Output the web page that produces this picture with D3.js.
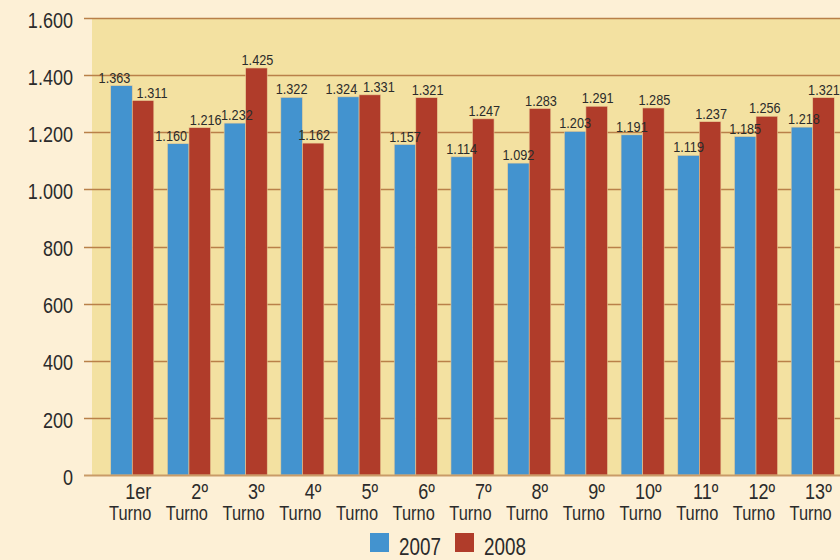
<!DOCTYPE html>
<html><head><meta charset="utf-8">
<script src="https://cdn.jsdelivr.net/npm/d3@7"></script>
<style>
body{margin:0;background:#fdf0d6;}
svg{display:block;}
text{font-family:"Liberation Sans",Arial,sans-serif;fill:#2b2b2b;}
</style></head>
<body><svg id="c" width="840" height="560"></svg>
<script>
const categories = ["1er","2º","3º","4º","5º","6º","7º","8º","9º","10º","11º","12º","13º"];
const subLabel = "Turno";
const values2007 = [1363,1160,1232,1322,1324,1157,1114,1092,1203,1191,1119,1185,1218];
const values2008 = [1311,1216,1425,1162,1331,1321,1247,1283,1291,1285,1237,1256,1321];
const seriesNames = ["2007","2008"];
const seriesColors = ["#4393cf","#b03c2a"];
const yTicks = [0,200,400,600,800,1000,1200,1400,1600];

const NARROW = 0.82; // horizontal condensing to mimic a narrow face
const svg = d3.select("#c");
const W = 840;
const y = d3.scaleLinear().domain([0,1600]).range([475,18]);
const x = d3.scaleBand().domain(categories).range([92,853]).paddingInner(0.24).paddingOuter(0.33);
const xs = d3.scaleBand().domain(seriesNames).range([0,x.bandwidth()]);
const fmt = v => d3.format(",")(v).replace(/,/g,".");

function ntext(sel, tx, ty){
  return sel.attr("x",0).attr("y",0).attr("transform",`translate(${tx},${ty}) scale(${NARROW},1)`);
}

// plot background
svg.append("rect").attr("x",92).attr("y",y(1600)).attr("width",W-92).attr("height",y(0)-y(1600)).attr("fill","#f3e1a1");

// gridlines
svg.append("g").selectAll("line").data(yTicks.filter(d=>d>0)).join("line")
  .attr("x1",84).attr("x2",W).attr("y1",d=>Math.round(y(d))+0.5).attr("y2",d=>Math.round(y(d))+0.5)
  .attr("stroke","#b98049").attr("stroke-width",1.3);

// y axis labels via axis
const yAxis = d3.axisLeft(y).tickValues(yTicks).tickSize(0).tickPadding(0).tickFormat(fmt);
const ya = svg.append("g").attr("transform","translate(73,0)").call(yAxis);
ya.select(".domain").remove();
ya.selectAll("text").attr("x",0).attr("font-size",22).attr("dy","0.42em")
  .attr("transform",`scale(${NARROW},1)`)
  .style("font-family",'"Liberation Sans",Arial,sans-serif').attr("fill","#2b2b2b");

// bars
const data = categories.map((c,i)=>({c, vals:[values2007[i],values2008[i]]}));
const groups = svg.append("g").selectAll("g").data(data).join("g").attr("transform",d=>`translate(${x(d.c)},0)`);
groups.selectAll("rect").data(d=>d.vals.map((v,k)=>({v,k}))).join("rect")
  .attr("x",d=>xs(seriesNames[d.k])).attr("width",xs.bandwidth())
  .attr("y",d=>y(d.v)).attr("height",d=>y(0)-y(d.v))
  .attr("fill",d=>seriesColors[d.k]).attr("stroke","#e9cc96").attr("stroke-width",0.6);

// zero line on top
svg.append("line").attr("x1",84).attr("x2",W).attr("y1",y(0)+0.5).attr("y2",y(0)+0.5)
  .attr("stroke","#c99b68").attr("stroke-width",2);

// value labels: compute centres, nudge apart when labels would collide
const labels = [];
data.forEach((d,i)=>{
  const yb = y(d.vals[0]), yr = y(d.vals[1]);
  const close = Math.abs(yb-yr) < 16;
  const off = close ? [-7, 9] : [0, 1];
  d.vals.forEach((v,k)=>{
    labels.push({v, k, i, cx: x(d.c) + xs(seriesNames[k]) + xs.bandwidth()/2 + off[k], cy: y(v)-3});
  });
});
for (let i=0;i<data.length-1;i++){
  const r = labels[2*i+1], b = labels[2*i+2];
  if (Math.abs(r.cy-b.cy) < 12){ r.cx -= 3; b.cx += 2; }
}
labels.forEach(l=>{ if (l.cx+15 > W-1) l.cx = W-1-15; });
const vl = svg.append("g");
labels.forEach(l=>{
  ntext(vl.append("text").attr("text-anchor","middle").attr("font-size",15.5).text(fmt(l.v)), l.cx, l.cy);
});

// x labels
const xl = svg.append("g").selectAll("g").data(categories).join("g")
  .attr("transform",d=>`translate(${x(d)+x.bandwidth()/2+19},0)`);
ntext(xl.append("text").attr("text-anchor","end").attr("font-size",22).text(d=>d), 0, 499);
ntext(xl.append("text").attr("text-anchor","end").attr("font-size",20).text(subLabel), 0, 520);

// legend
const lg = svg.append("g");
const lx = [370,455];
seriesNames.forEach((s,k)=>{
  lg.append("rect").attr("x",lx[k]).attr("y",533).attr("width",19).attr("height",19).attr("fill",seriesColors[k]);
  ntext(lg.append("text").attr("font-size",23).text(s), lx[k]+29, 555);
});
</script></body></html>
